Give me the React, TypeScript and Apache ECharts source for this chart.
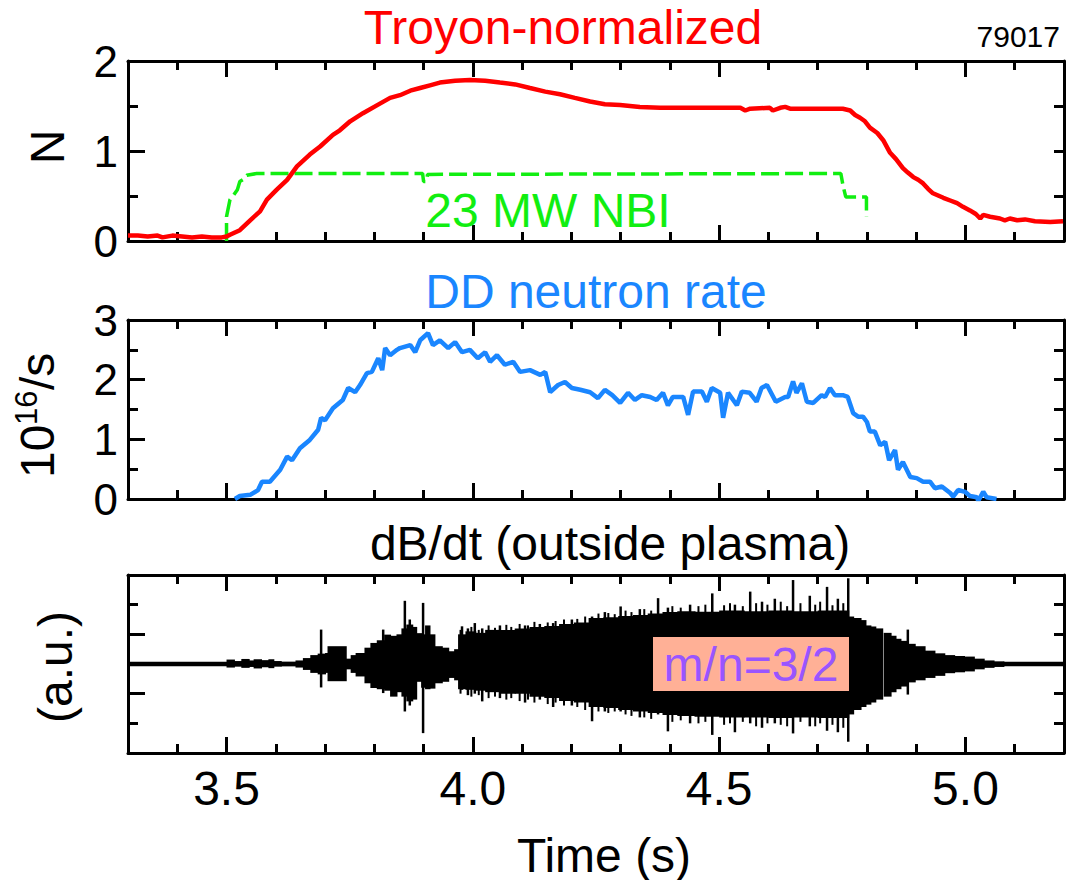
import React, { useEffect, useRef } from "react";
import * as echarts from "echarts";

const X_MIN = 3.3;
const X_MAX = 5.2;
const majorX = [3.5, 4.0, 4.5, 5.0];
const minorX = [3.4, 3.6, 3.7, 3.8, 3.9, 4.1, 4.2, 4.3, 4.4, 4.6, 4.7, 4.8, 4.9, 5.1];

// Panel 1: Troyon-normalized beta
const troyonT = [3.30, 3.32, 3.34, 3.36, 3.37, 3.39, 3.41, 3.43, 3.45, 3.47, 3.49, 3.50, 3.507, 3.527, 3.548, 3.568, 3.582, 3.602, 3.623, 3.643, 3.669, 3.69, 3.716, 3.73, 3.751, 3.777, 3.806, 3.832, 3.852, 3.873, 3.893, 3.913, 3.933, 3.964, 3.994, 4.025, 4.055, 4.086, 4.116, 4.147, 4.177, 4.207, 4.238, 4.268, 4.299, 4.339, 4.38, 4.461, 4.502, 4.543, 4.553, 4.563, 4.603, 4.609, 4.624, 4.634, 4.644, 4.684, 4.751, 4.766, 4.776, 4.786, 4.796, 4.806, 4.821, 4.833, 4.847, 4.859, 4.873, 4.883, 4.894, 4.904, 4.914, 4.924, 4.934, 4.955, 4.969, 4.983, 4.995, 5.009, 5.021, 5.03, 5.036, 5.05, 5.07, 5.08, 5.09, 5.105, 5.121, 5.141, 5.172, 5.198];
const troyonN = [0.06, 0.06, 0.05, 0.06, 0.04, 0.06, 0.05, 0.04, 0.05, 0.04, 0.04, 0.05, 0.07, 0.12, 0.23, 0.33, 0.46, 0.57, 0.68, 0.83, 0.96, 1.05, 1.18, 1.23, 1.33, 1.42, 1.51, 1.59, 1.62, 1.67, 1.70, 1.73, 1.76, 1.78, 1.79, 1.78, 1.76, 1.74, 1.70, 1.66, 1.63, 1.59, 1.55, 1.52, 1.51, 1.49, 1.48, 1.48, 1.48, 1.48, 1.45, 1.47, 1.48, 1.45, 1.48, 1.49, 1.47, 1.47, 1.47, 1.45, 1.40, 1.37, 1.33, 1.26, 1.20, 1.12, 0.98, 0.91, 0.81, 0.76, 0.71, 0.68, 0.64, 0.58, 0.53, 0.48, 0.45, 0.42, 0.38, 0.34, 0.30, 0.25, 0.29, 0.27, 0.25, 0.23, 0.25, 0.23, 0.24, 0.22, 0.21, 0.22];

// Panel 1: NBI power (normalized display)
const nbiT = [3.5, 3.5, 3.507, 3.512, 3.517, 3.522, 3.527, 3.533, 3.541, 3.561, 3.898, 3.9, 3.906, 3.908, 4.747, 4.752, 4.757, 4.799, 4.799];
const nbiP = [0, 0.27, 0.46, 0.49, 0.53, 0.57, 0.66, 0.68, 0.73, 0.75, 0.75, 0.66, 0.66, 0.74, 0.75, 0.6, 0.49, 0.49, 0.27];

// Panel 2: DD neutron rate (1e16/s)
const neutronT = [3.517, 3.527, 3.548, 3.564, 3.572, 3.588, 3.609, 3.623, 3.633, 3.649, 3.669, 3.686, 3.692, 3.7, 3.716, 3.736, 3.747, 3.761, 3.771, 3.785, 3.795, 3.808, 3.816, 3.822, 3.832, 3.846, 3.852, 3.873, 3.883, 3.893, 3.909, 3.919, 3.933, 3.95, 3.964, 3.978, 3.994, 4.01, 4.025, 4.035, 4.049, 4.065, 4.082, 4.096, 4.116, 4.137, 4.147, 4.157, 4.173, 4.187, 4.201, 4.218, 4.238, 4.254, 4.268, 4.283, 4.299, 4.315, 4.329, 4.343, 4.36, 4.373, 4.386, 4.396, 4.406, 4.427, 4.437, 4.447, 4.465, 4.475, 4.485, 4.502, 4.508, 4.518, 4.536, 4.546, 4.562, 4.576, 4.586, 4.597, 4.615, 4.634, 4.64, 4.65, 4.657, 4.668, 4.678, 4.691, 4.708, 4.715, 4.725, 4.735, 4.751, 4.761, 4.772, 4.782, 4.792, 4.8, 4.806, 4.816, 4.827, 4.837, 4.845, 4.857, 4.863, 4.873, 4.888, 4.901, 4.914, 4.928, 4.938, 4.952, 4.969, 4.975, 4.985, 4.999, 5.009, 5.023, 5.026, 5.036, 5.043, 5.063];
const neutronR = [0.0, 0.05, 0.07, 0.15, 0.29, 0.29, 0.49, 0.71, 0.65, 0.85, 0.99, 1.16, 1.36, 1.32, 1.52, 1.66, 1.86, 1.79, 1.91, 2.11, 2.13, 2.36, 2.16, 2.53, 2.41, 2.50, 2.53, 2.58, 2.46, 2.66, 2.78, 2.58, 2.66, 2.53, 2.63, 2.46, 2.50, 2.36, 2.46, 2.30, 2.41, 2.25, 2.30, 2.13, 2.16, 2.08, 2.13, 1.79, 1.91, 1.96, 1.86, 1.83, 1.79, 1.69, 1.83, 1.74, 1.61, 1.78, 1.66, 1.74, 1.71, 1.66, 1.78, 1.57, 1.71, 1.71, 1.41, 1.80, 1.80, 1.63, 1.86, 1.78, 1.36, 1.78, 1.57, 1.80, 1.78, 1.63, 1.86, 1.91, 1.63, 1.71, 1.71, 1.97, 1.78, 1.94, 1.63, 1.61, 1.74, 1.71, 1.86, 1.74, 1.74, 1.71, 1.44, 1.38, 1.38, 1.29, 1.13, 1.13, 0.90, 0.96, 0.65, 0.82, 0.49, 0.62, 0.37, 0.35, 0.29, 0.29, 0.18, 0.21, 0.10, 0.04, 0.15, 0.12, 0.05, 0.03, -0.03, 0.12, 0.03, 0.0];

// Panel 3: dB/dt envelope (a.u.), each sample held until the next time
const dbT = [3.30, 3.50, 3.515, 3.53, 3.545, 3.555, 3.57, 3.585, 3.595, 3.61, 3.64, 3.655, 3.67, 3.685, 3.70, 3.705, 3.742, 3.752, 3.762, 3.78, 3.792, 3.805, 3.82, 3.832, 3.845, 3.855, 3.865, 3.877, 3.885, 3.895, 3.903, 3.912, 3.922, 3.937, 3.95, 3.962, 3.97, 3.985, 4.005, 4.025, 4.055, 4.085, 4.115, 4.145, 4.175, 4.205, 4.235, 4.265, 4.295, 4.325, 4.355, 4.385, 4.415, 4.45, 4.50, 4.55, 4.60, 4.65, 4.70, 4.762, 4.772, 4.787, 4.797, 4.807, 4.817, 4.831, 4.834, 4.848, 4.858, 4.868, 4.883, 4.897, 4.917, 4.937, 4.957, 4.977, 4.997, 5.017, 5.037, 5.057, 5.077];
const dbUp = [0.08, 0.15, 0.10, 0.17, 0.12, 0.16, 0.13, 0.16, 0.10, 0.08, 0.12, 0.20, 0.30, 0.35, 0.37, 0.60, 0.18, 0.30, 0.37, 0.55, 0.71, 0.80, 0.99, 0.95, 1.00, 1.20, 1.33, 1.25, 1.04, 1.00, 1.30, 1.00, 0.60, 0.55, 0.43, 0.50, 1.00, 1.10, 1.05, 1.15, 1.15, 1.20, 1.25, 1.28, 1.35, 1.40, 1.55, 1.58, 1.62, 1.65, 1.70, 1.75, 1.78, 1.76, 1.80, 1.78, 1.80, 1.78, 1.80, 1.60, 1.55, 1.48, 1.30, 1.26, 1.20, 0.0, 1.05, 0.95, 0.85, 0.78, 0.68, 0.60, 0.45, 0.36, 0.30, 0.27, 0.25, 0.18, 0.12, 0.09, 0.08];
const dbLo = [-0.08, -0.12, -0.09, -0.13, -0.10, -0.15, -0.11, -0.14, -0.09, -0.08, -0.12, -0.20, -0.30, -0.35, -0.30, -0.58, -0.18, -0.30, -0.42, -0.65, -0.81, -0.85, -0.90, -1.10, -0.95, -1.10, -1.26, -1.20, -0.60, -0.80, -0.85, -0.83, -0.65, -0.60, -0.47, -0.55, -0.85, -0.87, -0.90, -0.95, -1.00, -1.00, -1.10, -1.15, -1.25, -1.30, -1.45, -1.48, -1.55, -1.60, -1.65, -1.72, -1.75, -1.78, -1.80, -1.80, -1.82, -1.80, -1.82, -1.70, -1.55, -1.45, -1.37, -1.30, -1.20, 0.0, -1.10, -0.95, -0.85, -0.76, -0.62, -0.55, -0.47, -0.40, -0.31, -0.28, -0.25, -0.18, -0.13, -0.10, -0.08];

// Panel 3: large individual spikes (time, top, bottom)
const spikeT = [3.692, 3.818, 3.862, 3.872, 3.899, 3.978, 3.99, 4.004, 4.019, 4.055, 4.106, 4.136, 4.163, 4.201, 4.242, 4.268, 4.30, 4.339, 4.376, 4.396, 4.441, 4.486, 4.532, 4.563, 4.587, 4.613, 4.65, 4.684, 4.719, 4.741, 4.762, 4.883];
const spikeTop = [1.16, 1.16, 2.13, 1.5, 2.06, 1.27, 1.2, 1.38, 1.2, 1.3, 1.3, 1.35, 1.38, 1.5, 1.6, 1.75, 1.94, 1.85, 2.22, 1.9, 2.0, 2.38, 2.0, 2.44, 2.1, 2.2, 2.83, 2.3, 2.6, 2.2, 2.89, 1.16];
const spikeBot = [-0.79, -0.98, -1.6, -1.4, -2.33, -0.87, -1.05, -1.0, -1.26, -1.15, -1.3, -1.2, -1.45, -1.4, -1.93, -1.6, -1.6, -1.8, -1.7, -2.27, -2.0, -2.39, -2.3, -2.0, -2.15, -2.0, -2.34, -2.1, -2.25, -2.3, -2.62, -1.03];

// Panel 3: small bristles along the envelope edge (time, top, bottom)
const bristleT = [3.975, 3.997, 4.012, 4.032, 4.045, 4.068, 4.078, 4.095, 4.112, 4.125, 4.152, 4.168, 4.185, 4.212, 4.228, 4.255, 4.275, 4.288, 4.31, 4.322, 4.348, 4.362, 4.405, 4.422, 4.458, 4.472, 4.51, 4.522, 4.548, 4.575, 4.598, 4.625, 4.638, 4.665, 4.695, 4.705, 4.73, 4.752];
const bristleTop = [1.15, 1.25, 1.15, 1.3, 1.22, 1.32, 1.25, 1.35, 1.3, 1.42, 1.4, 1.45, 1.5, 1.52, 1.6, 1.7, 1.72, 1.68, 1.8, 1.75, 1.85, 1.8, 1.95, 1.9, 1.95, 2.0, 1.98, 2.05, 1.95, 2.05, 2.0, 2.1, 1.95, 2.05, 2.0, 2.1, 1.98, 2.05];
const bristleBot = [-1.0, -1.1, -1.05, -1.15, -1.1, -1.2, -1.15, -1.25, -1.2, -1.3, -1.35, -1.3, -1.4, -1.45, -1.55, -1.6, -1.65, -1.6, -1.7, -1.75, -1.8, -1.85, -1.95, -1.9, -2.0, -1.95, -2.05, -2.0, -1.95, -2.1, -2.0, -2.05, -2.1, -1.95, -2.1, -2.0, -2.05, -2.15];

const FONT = '"Liberation Sans", Arial, Helvetica, sans-serif';
const GRIDS = [
  { top: 61, height: 180, min: 0, max: 2, labels: [0, 1, 2], longY: [1], shortY: [0.5, 1.5], rightY: [0.5, 1, 1.5] },
  { top: 320, height: 179, min: 0, max: 3, labels: [0, 1, 2, 3], longY: [1, 2], shortY: [0.5, 1.5, 2.5], rightY: [0.5, 1, 1.5, 2, 2.5] },
  { top: 575, height: 178, min: -3, max: 3, labels: [] as number[], longY: [-1, 0, 1], shortY: [-2, 2], rightY: [-2, -1, 1, 2] },
];

const LW = 3;
const lineStyleBlack = { color: "#000", width: LW };

function buildOption() {
  const grid = GRIDS.map((g) => ({ left: 128, top: g.top, width: 936, height: g.height }));
  const xAxis: any[] = [];
  const yAxis: any[] = [];
  GRIDS.forEach((g, gi) => {
    const base = { type: "value", gridIndex: gi, min: X_MIN, max: X_MAX, splitLine: { show: false } };
    xAxis.push({
      ...base,
      position: "bottom",
      axisLine: { show: true, onZero: false, lineStyle: lineStyleBlack },
      axisTick: { show: true, inside: true, length: 16, customValues: majorX, lineStyle: lineStyleBlack },
      axisLabel: {
        show: gi === 2,
        customValues: majorX,
        formatter: (v: number) => v.toFixed(1),
        fontSize: 48,
        fontFamily: FONT,
        color: "#000",
        margin: 11,
      },
    });
    xAxis.push({
      ...base,
      position: "bottom",
      axisLine: { show: false, onZero: false },
      axisTick: { show: true, inside: true, length: 9, customValues: minorX, lineStyle: lineStyleBlack },
      axisLabel: { show: false },
    });
    xAxis.push({
      ...base,
      position: "top",
      axisLine: { show: true, onZero: false, lineStyle: lineStyleBlack },
      axisTick: { show: true, inside: true, length: 16, customValues: majorX, lineStyle: lineStyleBlack },
      axisLabel: { show: false },
    });
    xAxis.push({
      ...base,
      position: "top",
      axisLine: { show: false, onZero: false },
      axisTick: { show: true, inside: true, length: 9, customValues: minorX, lineStyle: lineStyleBlack },
      axisLabel: { show: false },
    });
    const ybase = { type: "value", gridIndex: gi, min: g.min, max: g.max, splitLine: { show: false } };
    yAxis.push({
      ...ybase,
      position: "left",
      axisLine: { show: true, onZero: false, lineStyle: lineStyleBlack },
      axisTick: { show: true, inside: true, length: 17, customValues: g.longY, lineStyle: lineStyleBlack },
      axisLabel: {
        show: g.labels.length > 0,
        customValues: g.labels,
        fontSize: 44,
        fontFamily: FONT,
        color: "#000",
        margin: 10,
      },
    });
    yAxis.push({
      ...ybase,
      position: "left",
      axisLine: { show: false, onZero: false },
      axisTick: { show: true, inside: true, length: 10, customValues: g.shortY, lineStyle: lineStyleBlack },
      axisLabel: { show: false },
    });
    yAxis.push({
      ...ybase,
      position: "right",
      axisLine: { show: true, onZero: false, lineStyle: lineStyleBlack },
      axisTick: { show: true, inside: true, length: 10, customValues: g.rightY, lineStyle: lineStyleBlack },
      axisLabel: { show: false },
    });
  });

  const troyonData = troyonT.map((t, i) => [t, troyonN[i]]);
  const nbiData = nbiT.map((t, i) => [t, nbiP[i]]);
  const neutronData = neutronT.map((t, i) => [t, neutronR[i]]);
  const dbData = dbT.map((t, i) => [t, dbUp[i], dbLo[i], i < dbT.length - 1 ? dbT[i + 1] : X_MAX]);
  const spikeData = spikeT.map((t, i) => [t, spikeTop[i], spikeBot[i], 2.5]);
  const bristleData = bristleT.map((t, i) => [t, bristleTop[i], bristleBot[i], 2]);

  const spikeRender = (params: any, api: any) => {
    const a = api.coord([api.value(0), api.value(1)]);
    const b = api.coord([api.value(0), api.value(2)]);
    return {
      type: "line",
      shape: { x1: a[0], y1: a[1], x2: b[0], y2: b[1] },
      style: { stroke: "#000", lineWidth: api.value(3) },
    };
  };

  const series: any[] = [
    {
      type: "line",
      xAxisIndex: 0,
      yAxisIndex: 0,
      data: nbiData,
      showSymbol: false,
      lineStyle: { color: "#11ee11", width: 3.5, type: [18, 6] },
      z: 2,
    },
    {
      type: "line",
      xAxisIndex: 0,
      yAxisIndex: 0,
      data: troyonData,
      showSymbol: false,
      lineStyle: { color: "#ff0000", width: 4.5 },
      z: 3,
    },
    {
      type: "line",
      xAxisIndex: 4,
      yAxisIndex: 3,
      data: neutronData,
      showSymbol: false,
      lineStyle: { color: "#1a86ff", width: 4.5 },
    },
    {
      type: "custom",
      xAxisIndex: 8,
      yAxisIndex: 6,
      data: dbData,
      encode: { x: [0, 3], y: [1, 2] },
      renderItem: (params: any, api: any) => {
        const a = api.coord([api.value(0), api.value(1)]);
        const b = api.coord([api.value(3), api.value(2)]);
        const h = b[1] - a[1];
        if (h <= 0) return null;
        return {
          type: "rect",
          shape: { x: a[0], y: a[1], width: Math.max(b[0] - a[0] + 1, 0.5), height: h },
          style: { fill: "#000" },
        };
      },
    },
    {
      type: "custom",
      xAxisIndex: 8,
      yAxisIndex: 6,
      data: spikeData,
      encode: { x: 0, y: [1, 2] },
      renderItem: spikeRender,
    },
    {
      type: "custom",
      xAxisIndex: 8,
      yAxisIndex: 6,
      data: bristleData,
      encode: { x: 0, y: [1, 2] },
      renderItem: spikeRender,
    },
  ];

  const txt = (text: string, x: number, y: number, size: number, fill: string, align = "center", rotation = 0) => ({
    type: "text",
    x,
    y,
    rotation,
    z: 10,
    style: { text, fill, font: `${size}px ${FONT}`, align, verticalAlign: "middle" },
  });

  const graphic: any[] = [
    txt("Troyon-normalized", 563, 27, 48, "#ff0000"),
    txt("79017", 1060, 36, 30, "#000", "right"),
    txt("DD neutron rate", 596, 291, 48, "#1a86ff"),
    txt("dB/dt (outside plasma)", 610, 543, 48, "#000"),
    txt("Time (s)", 604, 855, 48, "#000"),
    txt("N", 47, 147, 48, "#000", "center", Math.PI / 2),
    txt("(a.u.)", 55, 667, 48, "#000", "center", Math.PI / 2),
    txt("23 MW NBI", 548, 210, 48, "#11ee11"),
    {
      type: "group",
      x: 37,
      y: 478,
      rotation: Math.PI / 2,
      z: 10,
      children: [
        { type: "text", x: 0, y: 0, style: { text: "10", fill: "#000", font: `48px ${FONT}`, align: "left", verticalAlign: "middle" } },
        { type: "text", x: 53, y: -11, style: { text: "16", fill: "#000", font: `31px ${FONT}`, align: "left", verticalAlign: "middle" } },
        { type: "text", x: 88, y: 0, style: { text: "/s", fill: "#000", font: `48px ${FONT}`, align: "left", verticalAlign: "middle" } },
      ],
    },
    {
      type: "rect",
      z: 10,
      shape: { x: 653, y: 637, width: 196, height: 54 },
      style: { fill: "#ffb096" },
    },
    txt("m/n=3/2", 751, 664, 48, "#9955ff"),
  ];

  return {
    animation: false,
    backgroundColor: "#fff",
    grid,
    xAxis,
    yAxis,
    series,
    graphic,
  };
}

export default function App() {
  const ref = useRef<HTMLDivElement>(null);
  useEffect(() => {
    if (!ref.current) return;
    const chart = echarts.init(ref.current, undefined, { renderer: "svg" });
    chart.setOption(buildOption() as any);
    return () => chart.dispose();
  }, []);
  return (
    <div
      ref={ref}
      style={{ position: "fixed", left: 0, top: 0, width: 1067, height: 880, background: "#fff" }}
    />
  );
}
